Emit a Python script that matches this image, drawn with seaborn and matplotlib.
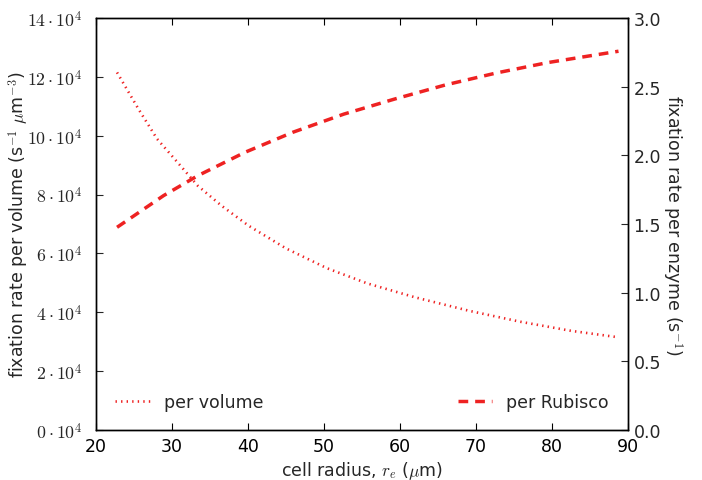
import matplotlib
matplotlib.use("Agg")
import matplotlib.pyplot as plt
import seaborn as sns
import pandas as pd

# per volume (fixation rate per volume, in units of 1e4 s^-1 um^-3)
radius_vol = [22.77, 25.58, 28.04, 30.71, 33.39, 36.52, 40.09, 45.0, 50.36, 55.71, 61.96, 69.1, 75.8, 82.5, 88.75]
per_volume = [12.15, 10.91, 9.89, 9.10, 8.30, 7.62, 6.94, 6.17, 5.50, 4.98, 4.51, 4.05, 3.68, 3.37, 3.15]
# per Rubisco (fixation rate per enzyme, s^-1)
radius_rub = [22.77, 28.9, 33.4, 39.6, 45.9, 52.6, 59.3, 66.0, 72.7, 79.4, 88.75]
per_rubisco = [1.476, 1.707, 1.852, 2.022, 2.168, 2.30, 2.41, 2.513, 2.600, 2.675, 2.758]

left_ticks = [0, 2, 4, 6, 8, 10, 12, 14]
right_ticks = [0.0, 0.5, 1.0, 1.5, 2.0, 2.5, 3.0]
x_ticks = [20, 30, 40, 50, 60, 70, 80, 90]

sns.set_style("white")
plt.rcParams["font.family"] = ["DejaVu Sans"]
plt.rcParams["mathtext.fontset"] = "cm"
plt.rcParams["lines.scale_dashes"] = False

df_vol = pd.DataFrame({"r": radius_vol, "vol": [v * 1e4 for v in per_volume]})
df_rub = pd.DataFrame({"r": radius_rub, "rub": per_rubisco})
red = "#ee2222"
fs = 12.5

fig = plt.figure(figsize=(7.02, 4.81), dpi=100)
ax = fig.add_axes([96 / 702, 1 - 431 / 481, 532 / 702, 412 / 481])
ax2 = ax.twinx()

sns.lineplot(data=df_vol, x="r", y="vol", ax=ax, color=red, lw=1.9,
             linestyle=(0, (1, 3)), label="per volume")
sns.lineplot(data=df_rub, x="r", y="rub", ax=ax2, color=red, lw=2.5,
             linestyle=(0, (7, 5)), label="per Rubisco")

ax.set_xlim(20, 90)
ax.set_ylim(0, 14e4)
ax2.set_ylim(0, 3.0)
ax.set_xticks(x_ticks)
ax.set_xticklabels([str(t) for t in x_ticks], fontsize=fs)
ax.set_yticks([t * 1e4 for t in left_ticks])
ax.set_yticklabels([r"$%d\cdot10^4$" % t for t in left_ticks], fontsize=12.8)
ax2.set_yticks(right_ticks)
ax2.set_yticklabels(["%.1f" % t for t in right_ticks], fontsize=fs)

for a in (ax, ax2):
    for s in a.spines.values():
        s.set_visible(True)
        s.set_color("black")
        s.set_linewidth(1.0)
ax.tick_params(axis="x", direction="in", top=True, bottom=True, length=5, width=0.8, pad=5, colors="black")
ax.tick_params(axis="y", direction="in", left=True, right=False, length=5, width=0.8, pad=10)
ax2.tick_params(axis="y", direction="in", right=True, left=False, length=5, width=0.8, pad=4)

ax.set_xlabel(r"cell radius, $r_e$ ($\mu$m)", fontsize=fs, labelpad=3)
ax.set_ylabel(r"fixation rate per volume (s$^{-1}$ $\mu$m$^{-3}$)", fontsize=fs)
ax.yaxis.set_label_coords((31 - 96) / 532, 0.5)
ax2.set_ylabel(r"fixation rate per enzyme (s$^{-1}$)", fontsize=fs, rotation=270, labelpad=17)

ax.legend(loc="lower left", frameon=False, fontsize=fs, handlelength=2, borderaxespad=0.7)
ax2.legend(loc="lower right", frameon=False, fontsize=fs, handlelength=2, borderaxespad=0.7)
ax.grid(False)
ax2.grid(False)

fig.savefig("out.png", dpi=100)
